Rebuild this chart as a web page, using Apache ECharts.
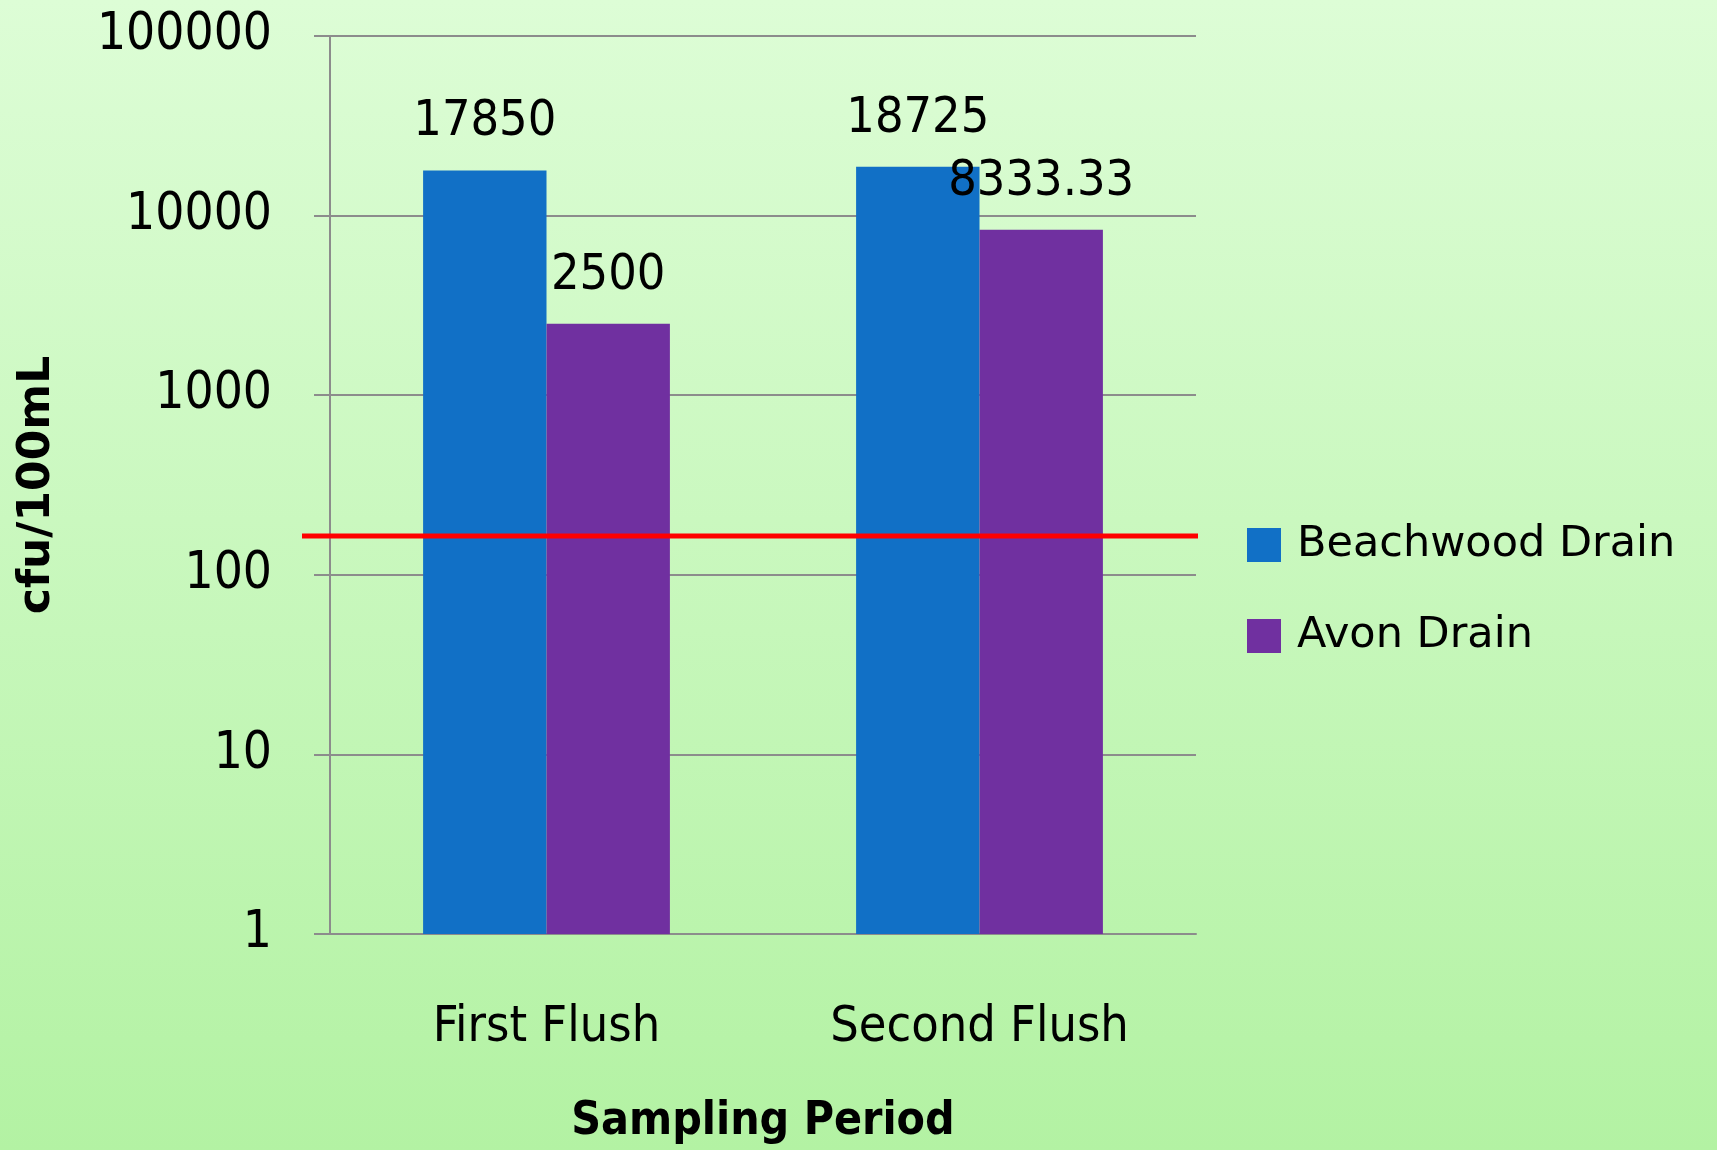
<!DOCTYPE html>
<html>
<head>
<meta charset="utf-8">
<script src="https://cdn.jsdelivr.net/npm/echarts@6/dist/echarts.min.js"></script>
<style>
  html, body { margin: 0; padding: 0; }
  #chart { width: 1717px; height: 1150px; }
</style>
</head>
<body>
<div id="chart"></div>
<script>
// data
var categories = ['First Flush', 'Second Flush']
var beachwood = [17850, 18725]
var avon = [2500, 8333.33]
var seriesNames = ['Beachwood Drain', 'Avon Drain']
// guideline drawn in red across the plot
var threshold = [167, 167]

var narrow = "'DejaVu Sans Condensed', 'Liberation Sans Narrow', sans-serif"
var gridColor = '#8c8c8c'

var myChart = echarts.init(document.getElementById('chart'))
var option = {
    animation: false,
    backgroundColor: new echarts.graphic.LinearGradient(0, 0, 0, 1, [
        {offset: 0, color: '#ddfdd6'},
        {offset: 1, color: '#b3f2a3'}
    ]),
    grid: [
        {left: 330, right: 521, top: 36, bottom: 214},
        // slightly wider grid for the red line, it sticks out left of the axis
        {left: 302, right: 519, top: 36, bottom: 214}
    ],
    legend: {
        orient: 'vertical',
        left: 1242,
        top: 512,
        itemWidth: 34,
        itemHeight: 34,
        itemGap: 35,
        icon: 'rect',
        data: seriesNames,
        textStyle: {
            fontFamily: "'DejaVu Sans', sans-serif",
            fontSize: 43,
            lineHeight: 34,
            color: '#000',
            padding: [0, 0, 22, 11]
        }
    },
    xAxis: [
        {
            type: 'category',
            gridIndex: 0,
            data: categories,
            name: 'Sampling Period',
            nameLocation: 'middle',
            nameGap: 165,
            nameTextStyle: {
                fontFamily: narrow,
                fontWeight: 'bold',
                fontSize: 46,
                lineHeight: 46,
                color: '#000'
            },
            axisLine: {lineStyle: {color: gridColor, width: 2}},
            axisTick: {length: 16, lineStyle: {color: gridColor, width: 2}},
            axisLabel: {
                fontFamily: narrow,
                fontSize: 50,
                lineHeight: 50,
                color: '#000',
                margin: 69
            }
        },
        {
            type: 'category',
            gridIndex: 1,
            data: categories,
            boundaryGap: false,
            show: false
        }
    ],
    yAxis: [
        {
            type: 'log',
            gridIndex: 0,
            logBase: 10,
            min: 1,
            max: 100000,
            name: 'cfu/100mL',
            nameLocation: 'middle',
            nameGap: 270,
            nameTextStyle: {
                fontFamily: "'DejaVu Sans', sans-serif",
                fontWeight: 'bold',
                fontSize: 44,
                lineHeight: 44,
                color: '#000'
            },
            axisLine: {show: true, lineStyle: {color: gridColor, width: 2}},
            axisTick: {show: true, length: 16, lineStyle: {color: gridColor, width: 2}},
            splitLine: {lineStyle: {color: gridColor, width: 2}},
            axisLabel: {
                fontFamily: narrow,
                fontSize: 51,
                color: '#000',
                margin: 58,
                padding: [0, 0, 10, 0],
                formatter: function (v) { return String(v) }
            }
        },
        {
            type: 'log',
            gridIndex: 1,
            logBase: 10,
            min: 1,
            max: 100000,
            show: false
        }
    ],
    series: [
        {
            name: seriesNames[0],
            type: 'bar',
            xAxisIndex: 0,
            yAxisIndex: 0,
            data: beachwood,
            barGap: '0%',
            barCategoryGap: '43%',
            itemStyle: {color: '#1170c6'},
            label: {
                show: true,
                position: 'top',
                distance: 24,
                fontFamily: narrow,
                fontSize: 50,
                lineHeight: 48,
                color: '#000'
            }
        },
        {
            name: seriesNames[1],
            type: 'bar',
            xAxisIndex: 0,
            yAxisIndex: 0,
            data: avon,
            barGap: '0%',
            barCategoryGap: '43%',
            itemStyle: {color: '#7030a0'},
            label: {
                show: true,
                position: 'top',
                distance: 24,
                fontFamily: narrow,
                fontSize: 50,
                lineHeight: 48,
                color: '#000'
            }
        },
        {
            name: 'threshold',
            type: 'line',
            xAxisIndex: 1,
            yAxisIndex: 1,
            data: threshold,
            symbol: 'none',
            z: 10,
            lineStyle: {color: '#ff0000', width: 5},
            silent: true
        }
    ]
}
myChart.setOption(option)
</script>
</body>
</html>
